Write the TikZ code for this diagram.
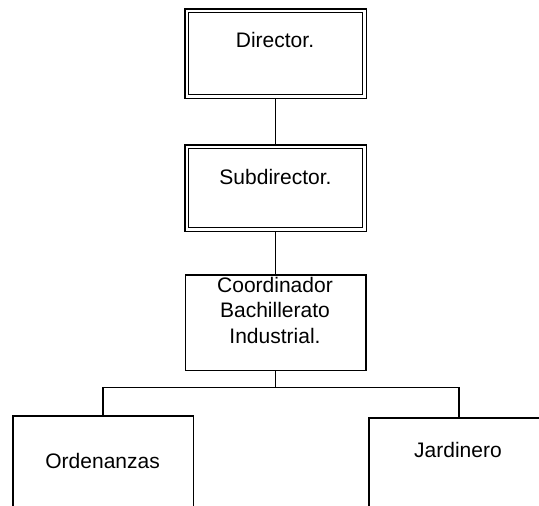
\documentclass[tikz,border=0pt]{standalone}
\usepackage{fontspec}
\setmainfont{Liberation Sans}
\begin{document}
\begin{tikzpicture}[x=1pt,y=-1pt,
  every node/.style={inner sep=0pt},
  boxline/.style={draw=black, line width=1.5pt, rectangle},
  dbox/.style={boxline, double=white, double distance=2.4pt, outer sep=2.7pt},
  sbox/.style={boxline, outer sep=0.75pt},
  txt/.style={font=\fontsize{21}{25.5}\selectfont, text=black, align=center, anchor=base},
  link/.style={draw=black, line width=1.5pt}]
  \clip (0,0) rectangle (539,506);
  \fill[white] (0,0) rectangle (539,506);

  % boxes
  \node[dbox, minimum width=177.6pt, minimum height=85.6pt] (dir) at (275.5,53.5) {};
  \node[dbox, minimum width=177.6pt, minimum height=82.6pt] (sub) at (275.5,188) {};
  \node[sbox, minimum width=180.5pt, minimum height=95.5pt] (coord) at (275.5,322.5) {};
  \node[sbox, minimum width=180.5pt, minimum height=120pt] (orden) at (103,475.75) {};
  \node[sbox, minimum width=180.5pt, minimum height=120pt] (jard) at (459,477.75) {};

  % labels
  \node[txt] (dirT) at (275,48) {Director.};
  \node[txt] (subT) at (275.5,184) {Subdirector.};
  \node[txt] (coordT) at (275,343) {Coordinador\\Bachillerato\\Industrial.};
  \node[txt] (ordenT) at (102.6,468) {Ordenanzas};
  \node[txt] (jardT) at (458,457.5) {Jardinero};

  % connectors
  \coordinate (bus) at (276,387.5);
  \draw[link] (dir.south) -- (sub.north);
  \draw[link] (sub.south) -- (coord.north);
  \draw[link] (coord.south) -- (coord.south |- bus);
  \draw[link] (orden.north) |- (bus) -| (jard.north);
\end{tikzpicture}
\end{document}
